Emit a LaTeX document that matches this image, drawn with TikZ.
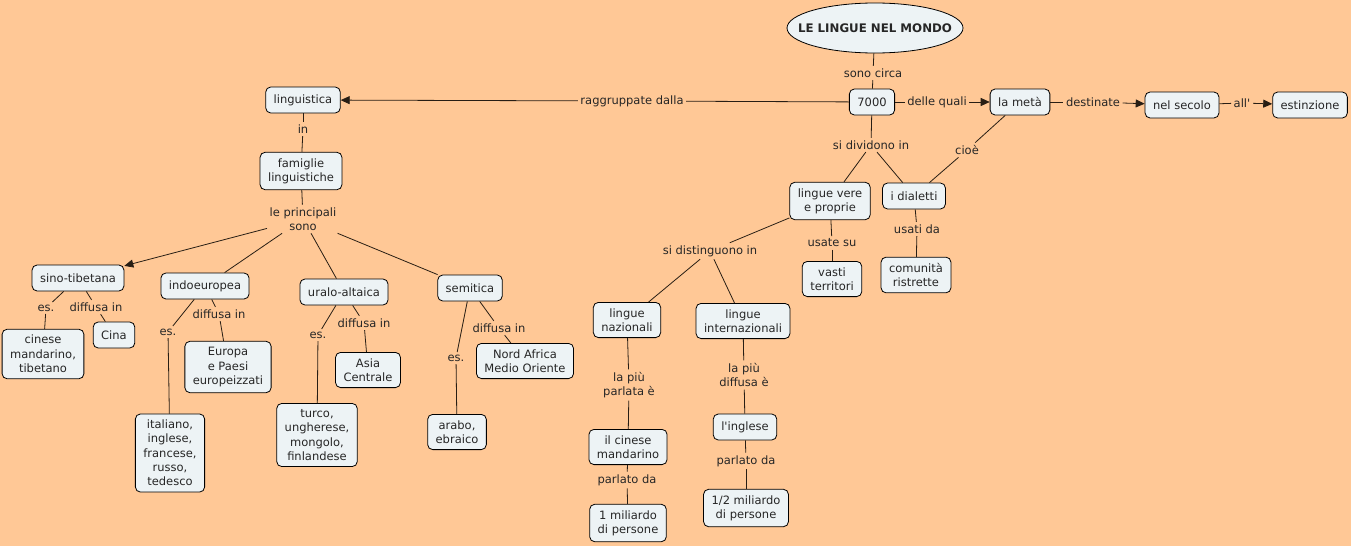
\documentclass[tikz,border=0pt]{standalone}
\usepackage{fontspec}
\setmainfont{DejaVu Sans}[Ligatures=TeXOff]
\usetikzlibrary{shapes.geometric,arrows.meta}
\definecolor{cmapbg}{RGB}{255,200,150}
\definecolor{cmapfill}{RGB}{237,243,245}
\definecolor{cmapline}{RGB}{40,30,20}
\begin{document}
\begin{tikzpicture}[
  x=1pt, y=-1pt,
  every node/.style = {font=\fontsize{11.5}{14.3}\selectfont, text=black!85},
  concept/.style = {shape=rectangle, rounded corners=5pt, draw=black, fill=cmapfill,
    align=center, inner xsep=8pt, inner ysep=6pt, minimum height=26pt, line width=0.8pt},
  phrase/.style = {align=center, inner sep=2.5pt},
  link/.style = {draw=cmapline, line width=0.8pt},
  tip/.style = {link, -{Triangle[length=9pt,width=8pt]}}
]
  \fill[cmapbg] (0,0) rectangle (1351,546);
  \useasboundingbox (0,0) rectangle (1351,546);

  \node[concept, shape=ellipse, rounded corners=0pt, minimum width=176pt, minimum height=50pt,
    inner sep=0pt, font=\fontsize{11.8}{14.3}\selectfont\bfseries] (title) at (875,28)
    {\makebox[0pt]{LE LINGUE NEL MONDO}};
  \node[concept] (n7000) at (872,102) {7000};
  \node[concept] (meta) at (1020,102) {la metà};
  \node[concept] (secolo) at (1182,105) {nel secolo};
  \node[concept] (estinzione) at (1310,105) {estinzione};
  \node[concept] (linguistica) at (303,100) {linguistica};
  \node[concept] (famiglie) at (301,171) {famiglie\\linguistiche};
  \node[concept] (sino) at (78,278) {sino-tibetana};
  \node[concept] (indo) at (205,286) {indoeuropea};
  \node[concept] (uralo) at (344,292) {uralo-altaica};
  \node[concept] (semitica) at (470,288) {semitica};
  \node[concept] (cinesetib) at (43,354) {cinese\\mandarino,\\tibetano};
  \node[concept] (cina) at (114,335) {Cina};
  \node[concept] (europa) at (228,367) {Europa\\e Paesi\\europeizzati};
  \node[concept] (italiano) at (170,453) {italiano,\\inglese,\\francese,\\russo,\\tedesco};
  \node[concept] (asia) at (368,370) {Asia\\Centrale};
  \node[concept] (turco) at (317,435) {turco,\\ungherese,\\mongolo,\\finlandese};
  \node[concept] (nordafrica) at (525,361) {Nord Africa\\Medio Oriente};
  \node[concept] (arabo) at (457,432) {arabo,\\ebraico};
  \node[concept] (vere) at (830,201) {lingue vere\\e proprie};
  \node[concept] (dialetti) at (914,196) {i dialetti};
  \node[concept] (vasti) at (832,279) {vasti\\territori};
  \node[concept] (comunita) at (916,275) {comunità\\ristrette};
  \node[concept] (nazionali) at (627,320) {lingue\\nazionali};
  \node[concept] (internaz) at (743,321) {lingue\\internazionali};
  \node[concept] (mandarino) at (628,447) {il cinese\\mandarino};
  \node[concept] (inglese) at (745,427) {l'inglese};
  \node[concept] (miliardo) at (628,523) {1 miliardo\\di persone};
  \node[concept] (mezzo) at (746,508) {1/2 miliardo\\di persone};

  \node[phrase] (sonocirca) at (873,73) {sono circa};
  \node[phrase] (raggruppate) at (632,101) {raggruppate dalla};
  \node[phrase] (dellequali) at (937,102) {delle quali};
  \node[phrase] (destinate) at (1093,102) {destinate};
  \node[phrase] (all) at (1242,103) {all'};
  \node[phrase] (dividono) at (871,145) {si dividono in};
  \node[phrase] (cioe) at (967,150) {cioè};
  \node[phrase] (usatesu) at (832,243) {usate su};
  \node[phrase] (usatida) at (917,229) {usati da};
  \node[phrase] (distinguono) at (710,251) {si distinguono in};
  \node[phrase] (parlata) at (629,385) {la più\\parlata è};
  \node[phrase] (diffusa) at (744,375) {la più\\diffusa è};
  \node[phrase] (parlatoL) at (627,480) {parlato da};
  \node[phrase] (parlatoR) at (746,461) {parlato da};
  \node[phrase] (in) at (303,129) {in};
  \node[phrase] (principali) at (303,219) {le principali\\sono};
  \node[phrase] (esSino) at (46,308) {es.};
  \node[phrase] (diffSino) at (96,307) {diffusa in};
  \node[phrase] (esIndo) at (168,332) {es.};
  \node[phrase] (diffIndo) at (219,314) {diffusa in};
  \node[phrase] (esUralo) at (318,335) {es.};
  \node[phrase] (diffUralo) at (364,323) {diffusa in};
  \node[phrase] (esSem) at (456,358) {es.};
  \node[phrase] (diffSem) at (499,328) {diffusa in};

  \draw[link] (title) -- (sonocirca);
  \draw[link] (sonocirca) -- (n7000);
  \draw[link] (n7000) -- (raggruppate);
  \draw[tip] (raggruppate) -- (linguistica);
  \draw[link] (n7000) -- (dellequali);
  \draw[tip] (dellequali) -- (meta);
  \draw[link] (meta) -- (destinate);
  \draw[tip] (destinate) -- (secolo);
  \draw[link] (secolo) -- (all);
  \draw[tip] (all) -- (estinzione);
  \draw[link] (n7000) -- (dividono);
  \draw[link] (dividono) -- (vere);
  \draw[link] (dividono) -- (dialetti);
  \draw[link] (meta) -- (cioe);
  \draw[link] (cioe) -- (dialetti);
  \draw[link] (vere) -- (usatesu);
  \draw[link] (usatesu) -- (vasti);
  \draw[link] (dialetti) -- (usatida);
  \draw[link] (usatida) -- (comunita);
  \draw[link] (vere) -- (distinguono);
  \draw[link] (distinguono) -- (nazionali);
  \draw[link] (distinguono) -- (internaz);
  \draw[link] (nazionali) -- (parlata);
  \draw[link] (parlata) -- (mandarino);
  \draw[link] (mandarino) -- (parlatoL);
  \draw[link] (parlatoL) -- (miliardo);
  \draw[link] (internaz) -- (diffusa);
  \draw[link] (diffusa) -- (inglese);
  \draw[link] (inglese) -- (parlatoR);
  \draw[link] (parlatoR) -- (mezzo);

  \draw[link] (linguistica) -- (in);
  \draw[link] (in) -- (famiglie);
  \draw[link] (famiglie) -- (principali);
  \draw[tip] (principali) -- (sino);
  \draw[link] (principali) -- (indo);
  \draw[link] (principali) -- (uralo);
  \draw[link] (principali) -- (semitica);
  \draw[link] (sino) -- (esSino);
  \draw[link] (esSino) -- (cinesetib);
  \draw[link] (sino) -- (diffSino);
  \draw[link] (diffSino) -- (cina);
  \draw[link] (indo) -- (esIndo);
  \draw[link] (esIndo) -- (italiano);
  \draw[link] (indo) -- (diffIndo);
  \draw[link] (diffIndo) -- (europa);
  \draw[link] (uralo) -- (esUralo);
  \draw[link] (esUralo) -- (turco);
  \draw[link] (uralo) -- (diffUralo);
  \draw[link] (diffUralo) -- (asia);
  \draw[link] (semitica) -- (esSem);
  \draw[link] (esSem) -- (arabo);
  \draw[link] (semitica) -- (diffSem);
  \draw[link] (diffSem) -- (nordafrica);
\end{tikzpicture}
\end{document}
